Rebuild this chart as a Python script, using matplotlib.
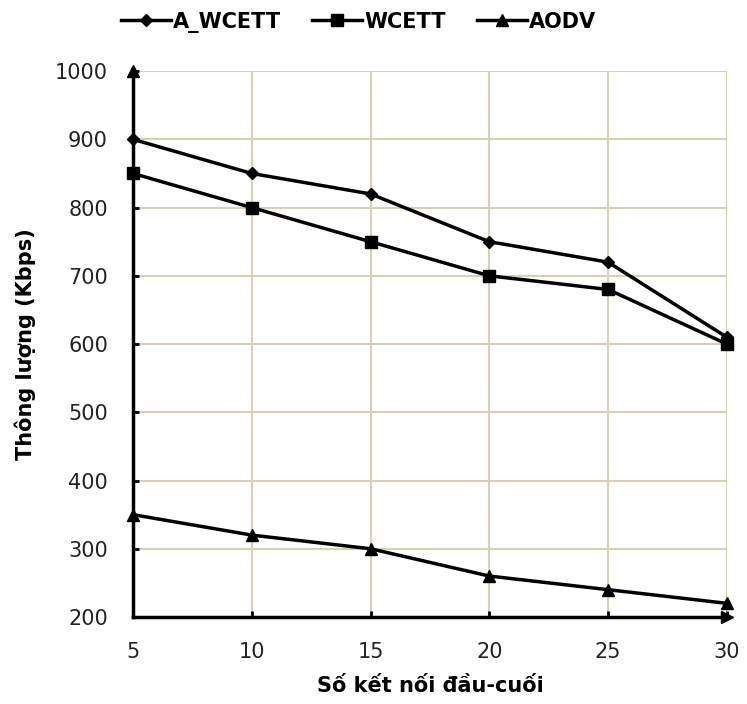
import matplotlib
matplotlib.use('Agg')
import matplotlib.pyplot as plt

# connections vs throughput
connections = [5, 10, 15, 20, 25, 30]
a_wcett = [900, 850, 820, 750, 720, 610]
wcett = [850, 800, 750, 700, 680, 600]
aodv = [350, 320, 300, 260, 240, 220]

y_ticks = [200, 300, 400, 500, 600, 700, 800, 900, 1000]

plt.rcParams['font.family'] = ['DejaVu Sans']

fig = plt.figure(figsize=(7.47, 7.04), dpi=100)
ax = fig.add_axes([0.178, 0.1236, 0.795, 0.7754])

ax.plot(connections, a_wcett, '-D', color='black', lw=2.5, ms=6, label='A_WCETT', clip_on=False, zorder=5)
ax.plot(connections, wcett, '-s', color='black', lw=2.5, ms=9, label='WCETT', clip_on=False, zorder=5)
ax.plot(connections, aodv, '-^', color='black', lw=2.5, ms=9, label='AODV', clip_on=False, zorder=5)

ax.set_xlim(5, 30)
ax.set_ylim(200, 1000)
ax.set_xticks(connections)
ax.set_yticks(y_ticks)

ax.grid(True, color='#d8d0b2', lw=1.5)
ax.set_axisbelow(True)

for s in ['top', 'right']:
    ax.spines[s].set_visible(False)
for s in ['left', 'bottom']:
    ax.spines[s].set_linewidth(2.5)

# arrow heads at the axis ends
ax.plot(0, 1, marker='^', color='black', ms=8, transform=ax.transAxes, clip_on=False, zorder=6)
ax.plot(1, 0, marker='>', color='black', ms=8, transform=ax.transAxes, clip_on=False, zorder=6)

ax.tick_params(direction='in', length=4, width=2, labelsize=15, pad=18, colors='black')
ax.tick_params(axis='both', labelcolor='#222222')

ax.set_xlabel('Số kết nối đầu-cuối', fontsize=15, fontweight='bold', labelpad=10)
ax.set_ylabel('Thông lượng (Kbps)', fontsize=15, fontweight='bold', labelpad=14)

ax.legend(loc='lower center', bbox_to_anchor=(0.38, 1.055), ncol=3, frameon=False,
          prop={'size': 15, 'weight': 'bold'}, handlelength=2.4, handletextpad=0.1,
          columnspacing=1.5, borderaxespad=0)

fig.savefig('out.png', dpi=100)
